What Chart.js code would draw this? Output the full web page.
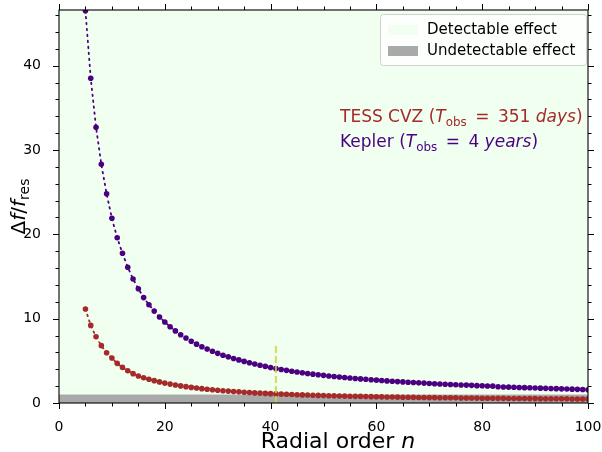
<!DOCTYPE html>
<html>
<head>
<meta charset="utf-8">
<script src="https://cdn.jsdelivr.net/npm/chart.js@4.4.0/dist/chart.umd.min.js"></script>
<style>
html,body{margin:0;padding:0;background:#ffffff;}
#wrap{width:602px;height:452px;}
</style>
</head>
<body>
<div id="wrap"><canvas id="c" width="602" height="452"></canvas></div>
<script>
// ---- data ----
const radialOrder = [5,6,7,8,9,10,11,12,13,14,15,16,17,18,19,20,21,22,23,24,25,26,27,28,29,30,31,32,33,34,35,36,37,38,39,40,41,42,43,44,45,46,47,48,49,50,51,52,53,54,55,56,57,58,59,60,61,62,63,64,65,66,67,68,69,70,71,72,73,74,75,76,77,78,79,80,81,82,83,84,85,86,87,88,89,90,91,92,93,94,95,96,97,98,99,100];
const keplerValues = [46.5,38.5,32.7,28.3,24.8,21.9,19.6,17.75,16.1,14.7,
  13.55,12.5,11.65,10.9,10.2,9.6,9.05,8.55,8.1,7.7,
  7.32,6.98,6.67,6.39,6.13,5.89,5.67,5.47,5.28,5.11,
  4.93,4.77,4.62,4.48,4.34,4.21,4.09,3.98,3.87,3.77,
  3.68,3.59,3.5,3.42,3.35,3.28,3.21,3.14,3.08,3.02,
  2.96,2.91,2.86,2.81,2.76,2.71,2.67,2.62,2.58,2.54,
  2.5,2.46,2.43,2.39,2.36,2.32,2.29,2.26,2.23,2.2,
  2.17,2.14,2.12,2.09,2.06,2.04,2.02,2.0,1.92,1.9,
  1.88,1.86,1.84,1.82,1.8,1.78,1.76,1.74,1.72,1.7,
  1.68,1.66,1.64,1.62,1.6,1.58];
const tessValues = [11.15,9.2,7.85,6.8,5.96,5.33,4.7,4.22,3.83,3.48,
  3.2,3.0,2.82,2.65,2.5,2.36,2.24,2.13,2.03,1.94,
  1.85,1.77,1.7,1.63,1.57,1.51,1.46,1.41,1.36,1.32,
  1.28,1.24,1.2,1.17,1.14,1.11,1.08,1.05,1.03,1.0,
  0.98,0.96,0.94,0.92,0.9,0.88,0.86,0.85,0.83,0.82,
  0.8,0.79,0.78,0.76,0.75,0.74,0.73,0.72,0.71,0.7,
  0.69,0.68,0.67,0.66,0.65,0.64,0.64,0.63,0.62,0.61,
  0.61,0.6,0.59,0.59,0.58,0.57,0.57,0.56,0.55,0.55,
  0.54,0.54,0.53,0.53,0.52,0.52,0.51,0.51,0.5,0.5,
  0.49,0.49,0.48,0.48,0.47,0.47];
const markerLineX = [41, 41];
const markerLineY = [0, 7];
const undetectableLimit = 1;
const xTicksMajor = [0,20,40,60,80,100];
const yTicksMajor = [0,10,20,30,40];
const legendLabels = ['Detectable effect','Undetectable effect'];

// ---- styles ----
const KEPLER_COLOR = '#4B0082';
const TESS_COLOR = '#A52A2A';
const DETECT_COLOR = '#F0FFF0';
const UNDETECT_COLOR = '#A9A9A9';
const FONT = '"DejaVu Sans", sans-serif';

function pts(xs, ys){ return xs.map((x,i)=>({x:x, y:ys[i]})); }

function drawRuns(ctx, runs, x, y, size, align){
  const parts = runs.map(r=>{
    const fs = r.sub ? size*0.7 : size;
    const f = (r.it ? 'italic ' : '') + fs + 'px ' + FONT;
    ctx.font = f;
    return {r:r, f:f, w:ctx.measureText(r.t).width};
  });
  const total = parts.reduce((a,p)=>a+p.w,0);
  let cx = align==='center' ? x - total/2 : (align==='right' ? x-total : x);
  ctx.textAlign = 'left';
  ctx.textBaseline = 'alphabetic';
  parts.forEach(p=>{
    ctx.font = p.f;
    ctx.fillStyle = p.r.color || '#000';
    ctx.fillText(p.r.t, cx, y + (p.r.sub ? size*0.22 : 0));
    cx += p.w;
  });
  return total;
}

const decorPlugin = {
  id:'decor',
  beforeDatasetsDraw(chart){
    const {ctx, chartArea:a, scales:{x, y}} = chart;
    ctx.save();
    ctx.fillStyle = DETECT_COLOR;
    ctx.fillRect(a.left, a.top, a.right-a.left, a.bottom-a.top);
    const yl = y.getPixelForValue(undetectableLimit);
    const y0 = y.getPixelForValue(0);
    ctx.fillStyle = UNDETECT_COLOR;
    ctx.fillRect(a.left, yl, a.right-a.left, y0-yl);
    ctx.restore();
  },
  afterDatasetsDraw(chart){
    const {ctx, chartArea:a, scales:{x, y}} = chart;
    ctx.save();
    ctx.strokeStyle = '#000';
    ctx.lineWidth = 1.1;
    ctx.strokeRect(a.left, a.top, a.right-a.left, a.bottom-a.top);
    ctx.lineWidth = 1;
    ctx.beginPath();
    for(let v=0; v<=100; v+=5){
      const px = Math.round(x.getPixelForValue(v))+0.5;
      const L = (v%20===0) ? 6 : 3.5;
      ctx.moveTo(px, a.bottom); ctx.lineTo(px, a.bottom+L);
      ctx.moveTo(px, a.top); ctx.lineTo(px, a.top-L);
    }
    for(let v=0; v<=46; v+=2){
      const py = Math.round(y.getPixelForValue(v))+0.5;
      const L = (v%10===0) ? 6 : 3.5;
      ctx.moveTo(a.left, py); ctx.lineTo(a.left-L, py);
      ctx.moveTo(a.right, py); ctx.lineTo(a.right+L, py);
    }
    ctx.stroke();

    // legend
    const lx = 380, ly = 14, lw = 206, lh = 51;
    ctx.beginPath();
    if (ctx.roundRect) ctx.roundRect(lx+0.5, ly+0.5, lw, lh, 3); else ctx.rect(lx+0.5, ly+0.5, lw, lh);
    ctx.fillStyle = 'rgba(255,255,255,0.8)';
    ctx.fill();
    ctx.strokeStyle = '#d0d0d0';
    ctx.lineWidth = 1;
    ctx.stroke();
    ctx.fillStyle = DETECT_COLOR;
    ctx.fillRect(388, 25, 30, 10);
    ctx.fillStyle = UNDETECT_COLOR;
    ctx.fillRect(388, 46, 30, 10);
    ctx.fillStyle = '#000';
    ctx.font = '15px ' + FONT;
    ctx.textAlign = 'left';
    ctx.textBaseline = 'middle';
    ctx.fillText(legendLabels[0], 427, 30);
    ctx.fillText(legendLabels[1], 427, 51);

    // annotations
    drawRuns(ctx, [
      {t:'TESS CVZ (', color:TESS_COLOR},
      {t:'T', it:true, color:TESS_COLOR},
      {t:'obs', sub:true, color:TESS_COLOR},
      {t:'\u2002=\u2002351 ', color:TESS_COLOR},
      {t:'days', it:true, color:TESS_COLOR},
      {t:')', color:TESS_COLOR}
    ], 340, 122, 17, 'left');
    drawRuns(ctx, [
      {t:'Kepler (', color:KEPLER_COLOR},
      {t:'T', it:true, color:KEPLER_COLOR},
      {t:'obs', sub:true, color:KEPLER_COLOR},
      {t:'\u2002=\u20024 ', color:KEPLER_COLOR},
      {t:'years', it:true, color:KEPLER_COLOR},
      {t:')', color:KEPLER_COLOR}
    ], 340, 147, 17, 'left');

    // axis titles
    drawRuns(ctx, [
      {t:'Radial order '},
      {t:'n', it:true}
    ], 338, 448, 22, 'center');
    ctx.save();
    ctx.translate(25, (a.top+a.bottom)/2);
    ctx.rotate(-Math.PI/2);
    drawRuns(ctx, [
      {t:'Δ'},
      {t:'f', it:true},
      {t:'/'},
      {t:'f', it:true},
      {t:'res', sub:true}
    ], 0, 0, 20, 'center');
    ctx.restore();
    ctx.restore();
  }
};

new Chart(document.getElementById('c'), {
  type:'scatter',
  data:{
    datasets:[
      {
        label:'limit', data:pts(markerLineX, markerLineY), showLine:true,
        borderColor:'rgba(205,215,55,0.85)', borderWidth:2, borderDash:[7,3],
        pointRadius:0, fill:false
      },
      {
        label:'TESS', data:pts(radialOrder, tessValues), showLine:true,
        borderColor:TESS_COLOR, borderWidth:1.8, borderDash:[1.5,4.5], borderCapStyle:'round',
        pointRadius:2.8, pointBackgroundColor:TESS_COLOR, pointBorderColor:TESS_COLOR, pointBorderWidth:0
      },
      {
        label:'Kepler', data:pts(radialOrder, keplerValues), showLine:true,
        borderColor:KEPLER_COLOR, borderWidth:1.8, borderDash:[1.5,4.5], borderCapStyle:'round',
        pointRadius:2.8, pointBackgroundColor:KEPLER_COLOR, pointBorderColor:KEPLER_COLOR, pointBorderWidth:0
      }
    ]
  },
  options:{
    responsive:false,
    animation:false,
    devicePixelRatio:1,
    layout:{padding:{top:10, right:14, left:0, bottom:0}},
    plugins:{legend:{display:false}, tooltip:{enabled:false}, title:{display:false}},
    scales:{
      x:{
        type:'linear', min:0, max:100,
        grid:{display:false}, border:{display:false},
        afterBuildTicks(s){ s.ticks = xTicksMajor.map(v=>({value:v})); },
        ticks:{color:'#000', font:{family:'DejaVu Sans', size:14}, padding:8, maxRotation:0},
        afterFit(s){ s.height = 49; s.paddingLeft = 0; s.paddingRight = 0; }
      },
      y:{
        type:'linear', min:0, max:46.6,
        grid:{display:false}, border:{display:false},
        afterBuildTicks(s){ s.ticks = yTicksMajor.map(v=>({value:v})); },
        ticks:{color:'#000', font:{family:'DejaVu Sans', size:14}, padding:10},
        afterFit(s){ s.width = 59; s.paddingTop = 0; s.paddingBottom = 0; }
      }
    }
  },
  plugins:[decorPlugin]
});
</script>
</body>
</html>
